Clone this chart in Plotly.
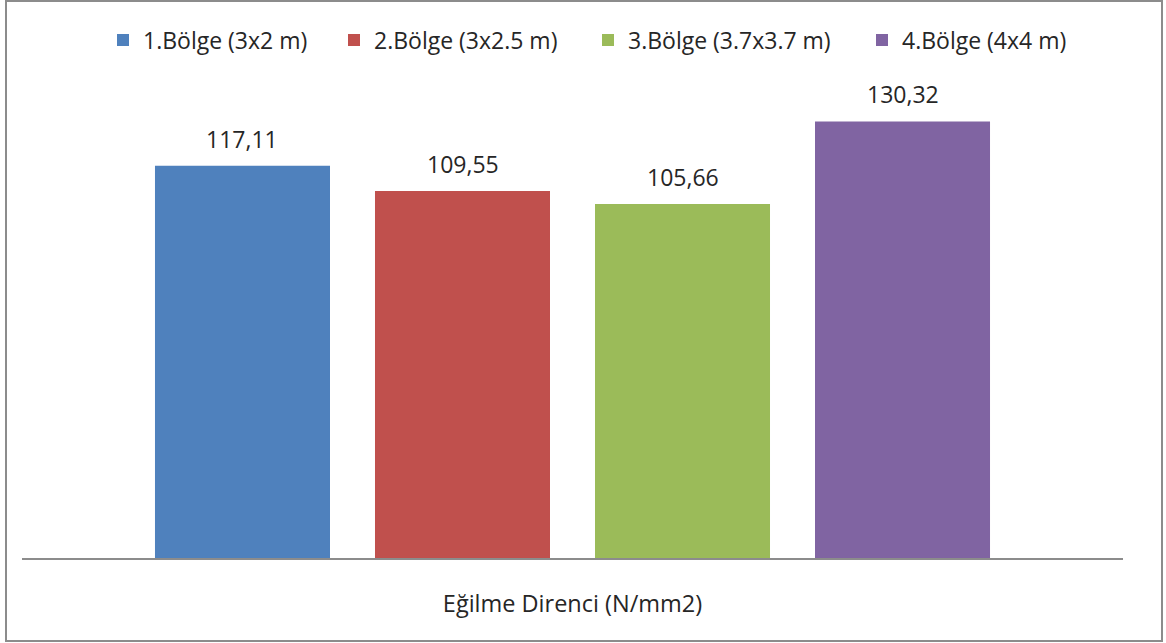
import plotly.graph_objects as go

# Chart data
category = "Eğilme Direnci (N/mm2)"
series_names = ["1.Bölge (3x2 m)", "2.Bölge (3x2.5 m)", "3.Bölge (3.7x3.7 m)", "4.Bölge (4x4 m)"]
values = [117.11, 109.55, 105.66, 130.32]
value_labels = ["117,11", "109,55", "105,66", "130,32"]
colors = ["#4F81BD", "#C0504D", "#9BBB59", "#8064A2"]
legend_widths = [186, 209, 229, 168]

W, H = 1166, 643
M_L, M_R, M_T, M_B = 22, 43, 89, 85
plot_w = W - M_L - M_R
plot_h = H - M_T - M_B

BARGAP = 0.2007
BARGROUPGAP = 0.2045
FONT = "Open Sans"
TEXT = "#262626"

fig = go.Figure()
n = len(values)
for name, v, c, lw in zip(series_names, values, colors, legend_widths):
    fig.add_trace(go.Bar(
        x=[0], y=[v], name=name,
        marker=dict(color=c, line=dict(width=0)),
        legendwidth=lw,
        hoverinfo="skip",
    ))

# value labels above each bar of the group
slot = (1 - BARGAP) / n
for i, (v, lab) in enumerate(zip(values, value_labels)):
    fig.add_annotation(
        x=(i - (n - 1) / 2) * slot, y=v, xref="x", yref="y",
        text=lab, showarrow=False, yanchor="middle", yshift=27,
        font=dict(family=FONT, size=23, color=TEXT),
    )

# chart frame
def px_x(p):
    return (p - M_L) / plot_w

def px_y(p):
    return (H - M_B - p) / plot_h

fig.add_shape(
    type="rect", xref="paper", yref="paper",
    x0=px_x(6), x1=px_x(1162), y0=px_y(641), y1=px_y(1),
    line=dict(color="#8C8C8C", width=2), fillcolor="rgba(0,0,0,0)", layer="above",
)

fig.update_layout(
    width=W, height=H, autosize=False,
    margin=dict(l=M_L, r=M_R, t=M_T, b=M_B, pad=0),
    paper_bgcolor="white", plot_bgcolor="white",
    barmode="group", bargap=BARGAP, bargroupgap=BARGROUPGAP,
    font=dict(family=FONT, color=TEXT),
    showlegend=True,
    legend=dict(
        orientation="h", xanchor="left", yanchor="middle",
        x=px_x(103), y=px_y(40),
        font=dict(family=FONT, size=23, color=TEXT),
        bgcolor="rgba(0,0,0,0)", borderwidth=0,
        traceorder="normal",
    ),
    xaxis=dict(
        range=[-0.5, 0.5], tickvals=[0], ticktext=[category],
        showgrid=False, zeroline=False,
        showline=True, linecolor="#8C8C8C", linewidth=1.5,
        ticks="", ticklabelstandoff=24,
        tickfont=dict(family=FONT, size=23.5, color=TEXT),
        fixedrange=True,
    ),
    yaxis=dict(range=[0, 140], visible=False, fixedrange=True),
)

fig.write_html("out.html", config={"displayModeBar": False})
